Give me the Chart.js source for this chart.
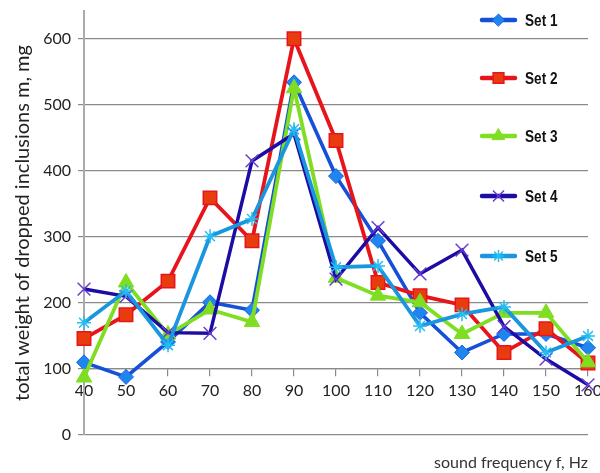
<!DOCTYPE html>
<html>
<head>
<meta charset="utf-8">
<script src="https://cdn.jsdelivr.net/npm/chart.js@4/dist/chart.umd.min.js"></script>
<style>
  html, body { margin: 0; padding: 0; background: #ffffff; }
  #wrap { width: 600px; height: 473px; }
</style>
</head>
<body>
<div id="wrap"><canvas id="chart" width="600" height="473"></canvas></div>
<script>
// Sound frequency, Hz
const frequencies = ['40', '50', '60', '70', '80', '90', '100', '110', '120', '130', '140', '150', '160'];

// Total weight of dropped inclusions, mg
const set1 = [110, 88, 141, 201, 189, 534, 392, 294, 185, 125, 153, 153, 132];
const set2 = [146, 182, 233, 359, 294, 600, 446, 231, 211, 197, 125, 161, 109];
const set3 = [87, 231, 152, 190, 171, 525, 238, 211, 201, 153, 185, 185, 110];
const set4 = [221, 210, 155, 154, 415, 456, 236, 314, 244, 280, 164, 115, 76];
const set5 = [170, 218, 136, 301, 327, 463, 254, 256, 165, 183, 194, 125, 150];

const seriesNames = ['Set 1', 'Set 2', 'Set 3', 'Set 4', 'Set 5'];
const yTickValues = [0, 100, 200, 300, 400, 500, 600];

const styles = [
  { line: '#1650d8', fill: '#1f86f0', border: '#1a62e0', style: 'rectRot', radius: 7.5, bw: 1, lw: 3.6 },
  { line: '#e8141c', fill: '#e83c0e', border: '#e8141c', style: 'rect', radius: 9.5, bw: 1.5, lw: 3.8 },
  { line: '#7fde22', fill: '#7fde22', border: '#7fde22', style: 'triangle', radius: 9, bw: 1, lw: 3.8 },
  { line: '#1c0ca4', fill: '#6a3cd0', border: '#6a3cd0', style: 'crossRot', radius: 9, bw: 1.5, lw: 3.5 },
  { line: '#1a96de', fill: '#25bdf2', border: '#25bdf2', style: 'star', radius: 7, bw: 1.5, lw: 3.8 }
];

const values = [set1, set2, set3, set4, set5];

const datasets = values.map((vals, i) => ({
  label: seriesNames[i],
  data: vals,
  borderColor: styles[i].line,
  borderWidth: styles[i].lw,
  backgroundColor: styles[i].fill,
  pointStyle: styles[i].style,
  pointRadius: styles[i].radius,
  pointBackgroundColor: styles[i].fill,
  pointBorderColor: styles[i].border,
  pointBorderWidth: styles[i].bw,
  tension: 0,
  fill: false,
  order: values.length - i
}));

// Legend drawn over the right part of the plot, one row per series
const sideLegend = {
  id: 'sideLegend',
  afterDatasetsDraw(chart) {
    const ctx = chart.ctx;
    const rows = [20, 78, 136, 196, 256];
    chart.data.datasets.forEach((ds, i) => {
      const y = rows[i];
      ctx.save();
      ctx.beginPath();
      ctx.strokeStyle = ds.borderColor;
      ctx.lineWidth = 4.5;
      ctx.lineCap = 'round';
      ctx.moveTo(482, y);
      ctx.lineTo(515, y);
      ctx.stroke();
      ctx.fillStyle = ds.pointBackgroundColor;
      ctx.strokeStyle = ds.pointBorderColor;
      ctx.lineWidth = ds.pointBorderWidth;
      Chart.helpers.drawPoint(ctx, {
        pointStyle: ds.pointStyle,
        radius: ds.pointRadius * 0.8,
        rotation: 0,
        borderWidth: ds.pointBorderWidth
      }, 498.5, y);
      // condensed bold label
      ctx.translate(525, y + 1);
      ctx.scale(0.8, 1);
      ctx.fillStyle = '#111111';
      ctx.font = 'bold 17px "Liberation Sans", Arial, sans-serif';
      ctx.textAlign = 'left';
      ctx.textBaseline = 'middle';
      ctx.fillText(ds.label, 0, 0);
      ctx.restore();
    });
  }
};

const axisFont = { family: 'Lato, "Open Sans", sans-serif', size: 16 };

new Chart(document.getElementById('chart'), {
  type: 'line',
  data: { labels: frequencies, datasets },
  plugins: [sideLegend],
  options: {
    responsive: false,
    animation: false,
    layout: { padding: { top: 10, right: 12, bottom: 0, left: 0 } },
    plugins: {
      legend: { display: false },
      tooltip: { enabled: false },
      title: {
        display: true,
        position: 'bottom',
        align: 'end',
        text: 'sound frequency f, Hz',
        color: '#333333',
        font: { family: 'Lato, "Open Sans", sans-serif', size: 16, weight: 'normal', lineHeight: 1.2 },
        padding: { top: 18, bottom: 0.8 }
      }
    },
    scales: {
      x: {
        type: 'category',
        offset: false,
        position: { y: 100 },
        grid: { drawOnChartArea: false, drawTicks: true, tickLength: 7, color: '#8a8a8a', lineWidth: 1.2 },
        border: { display: true, color: '#8a8a8a', width: 1.2 },
        ticks: { color: '#222222', font: axisFont, padding: 5, maxRotation: 0, autoSkip: false },
        afterFit(scale) {
          scale.height = 0;
          scale.paddingLeft = 0;
          scale.paddingRight = 12;
        }
      },
      y: {
        min: 0,
        max: 642,
        ticks: { stepSize: 100, color: '#222222', font: axisFont, padding: 7 },
        afterBuildTicks(scale) {
          scale.ticks = yTickValues.map(v => ({ value: v }));
        },
        grid: { color: '#8a8a8a', lineWidth: 1.2, drawTicks: true, tickLength: 6 },
        border: { display: true, color: '#ababab', width: 2 },
        title: {
          display: true,
          text: 'total weight of dropped inclusions m, mg',
          color: '#222222',
          font: { family: 'Lato, "Open Sans", sans-serif', size: 20, lineHeight: 1.2 },
          padding: { top: 11, bottom: 0 }
        },
        afterFit(scale) {
          scale.width = 84;
          scale.paddingTop = 0;
          scale.paddingBottom = 0;
        }
      }
    }
  }
});
</script>
</body>
</html>
